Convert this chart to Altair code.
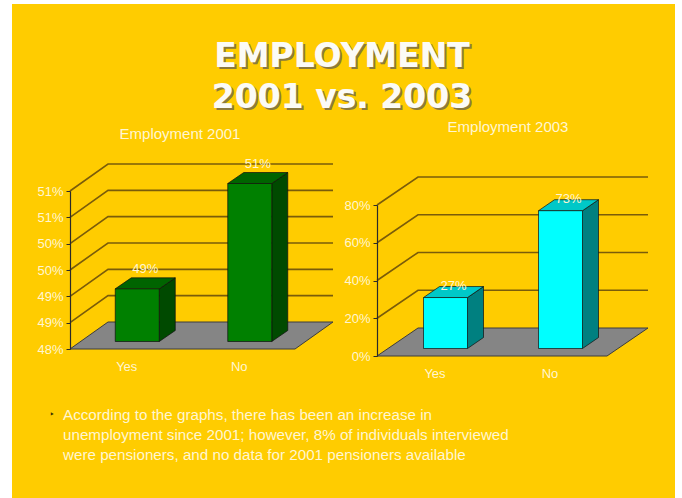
import json
import altair as alt
import pandas as pd

W, H = 682, 498

# ---------------- data ----------------
categories = ["Yes", "No"]
values_2001 = [49.0, 51.0]
values_2003 = [27.0, 73.0]
value_labels_2001 = ["49%", "51%"]
value_labels_2003 = ["27%", "73%"]
ticks_2001 = [48, 48.5, 49, 49.5, 50, 50.5, 51]
tick_labels_2001 = ["48%", "49%", "49%", "50%", "50%", "51%", "51%"]
ticks_2003 = [0, 20, 40, 60, 80]
tick_labels_2003 = ["0%", "20%", "40%", "60%", "80%"]
title_lines = ["EMPLOYMENT", "2001 vs. 2003"]
panel_titles = ["Employment 2001", "Employment 2003"]
bullet_lines = [
    "According to the graphs, there has been an increase in",
    "unemployment since 2001; however, 8% of individuals interviewed",
    "were pensioners, and no data for 2001 pensioners available",
]

# ---------------- style ----------------
BG = "#FFCC00"
TXT = "#FFF6D2"
GRID = "#7A5C0A"
LABEL_FONT = "Liberation Sans"


def panel(vals, vlabels, ticks, tlabels, geom, colors, label_dy):
    XL, XR, YB, YT = geom["x0"], geom["x1"], geom["y0"], geom["y1"]
    lo, hi = ticks[0], ticks[-1]
    ux = (XR - XL) / 2.0
    uy = (YB - YT) / float(hi - lo)
    DX, DY = geom["dx"] / ux, geom["dy"] / uy
    fx, fy = 11 / ux, 7.5 / uy
    hw = 22 / ux
    bx, by = 16 / ux, 11 / uy

    xs = alt.Scale(domain=[0, 2], range=[XL, XR], nice=False, zero=False)
    ys = alt.Scale(domain=[lo, hi], range=[YB, YT], nice=False, zero=False)

    ylab = "[%s][indexof([%s], datum.value)]" % (
        ",".join(json.dumps(s) for s in tlabels), ",".join(str(t) for t in ticks))
    xlab = "[%s][indexof([0.5,1.5], datum.value)]" % ",".join(json.dumps(c) for c in categories)
    xax = alt.Axis(orient="bottom", offset=-(H - YB), values=[0.5, 1.5], labelExpr=xlab,
                   ticks=False, domain=False, grid=False, labelPadding=11, labelColor=TXT,
                   labelFont=LABEL_FONT, labelFontSize=13, title=None, zindex=1)
    yax = alt.Axis(orient="left", offset=-XL, values=ticks, labelExpr=ylab, grid=False,
                   domainColor="#2a2a2a", domainWidth=1.2, tickColor="#2a2a2a", tickSize=4,
                   labelColor=TXT, labelFont=LABEL_FONT, labelFontSize=13, labelPadding=3,
                   title=None, zindex=1)

    def X(f):
        return alt.X(f, scale=xs, axis=xax)

    def Y(f):
        return alt.Y(f, scale=ys, axis=yax)

    # back-wall grid lines
    g = []
    for t in ticks[1:]:
        g += [dict(t=t, o=0, x=0, y=t), dict(t=t, o=1, x=DX, y=t + DY),
              dict(t=t, o=2, x=2 + DX, y=t + DY)]
    grid = alt.Chart(pd.DataFrame(g)).mark_line(color=GRID, strokeWidth=1.6).encode(
        x=X("x:Q"), y=Y("y:Q"), detail="t:N", order="o:Q")

    floor_df = pd.DataFrame([dict(y=lo, x=0, x2=2), dict(y=lo + DY, x=DX, x2=2 + DX)])
    floor = alt.Chart(floor_df).mark_area(orient="horizontal", color="#858585",
                                          stroke="#3c3c3c", strokeWidth=1).encode(
        y=Y("y:Q"), x=X("x:Q"), x2="x2:Q")

    front, side, top, lab = [], [], [], []
    for i, (c, v) in enumerate(zip(categories, vals)):
        cx = i + 0.5 + fx
        xl, xr = cx - hw, cx + hw
        base, tv = lo + fy, v + fy
        front.append(dict(id=c, xl=xl, xr=xr, b=base, t=tv))
        side += [dict(id=c, x=xr, y=tv, y2=base),
                 dict(id=c, x=xr + bx, y=tv + by, y2=base + by)]
        top += [dict(id=c, y=tv, x=xl, x2=xr),
                dict(id=c, y=tv + by, x=xl + bx, x2=xr + bx)]
        lab.append(dict(id=c, x=cx + bx / 2, y=tv + by, s=vlabels[i]))

    side_l = alt.Chart(pd.DataFrame(side)).mark_area(
        color=colors[2], stroke="#101010", strokeWidth=0.7).encode(
        x=X("x:Q"), y=Y("y:Q"), y2="y2:Q", detail="id:N")
    top_l = alt.Chart(pd.DataFrame(top)).mark_area(
        orient="horizontal", color=colors[1], stroke="#101010", strokeWidth=0.7).encode(
        y=Y("y:Q"), x=X("x:Q"), x2="x2:Q", detail="id:N")
    front_l = alt.Chart(pd.DataFrame(front)).mark_rect(
        color=colors[0], stroke="#101010", strokeWidth=0.7).encode(
        x=X("xl:Q"), x2="xr:Q", y=Y("b:Q"), y2="t:Q")
    lab_l = alt.Chart(pd.DataFrame(lab)).mark_text(
        font=LABEL_FONT, fontSize=13, color=TXT, baseline="middle", dy=label_dy).encode(
        x=X("x:Q"), y=Y("y:Q"), text="s:N")
    return alt.layer(grid, floor, side_l, top_l, front_l, lab_l)


p1 = panel(values_2001, value_labels_2001, ticks_2001, tick_labels_2001,
           dict(x0=70, x1=295, y0=349, y1=191, dx=38, dy=27),
           ["#008000", "#006400", "#004A00"], -9)
p2 = panel(values_2003, value_labels_2003, ticks_2003, tick_labels_2003,
           dict(x0=377, x1=607, y0=356, y1=205, dx=41, dy=28),
           ["#00FFFF", "#00C8C8", "#008080"], -1)

one = pd.DataFrame({"k": [0]})
bg = alt.Chart(one).mark_rect(color=BG).encode(
    x=alt.value(12), x2=alt.value(675), y=alt.value(4), y2=alt.value(H))

title_df = pd.DataFrame({"s": title_lines, "yy": [57, 98]})
t_shadow = alt.Chart(title_df).mark_text(
    font="DejaVu Sans", fontWeight="bold", fontSize=33, color="#8C7A3C",
    baseline="middle", dx=2, dy=2).encode(x=alt.value(342), y=alt.Y("yy:Q", scale=None), text="s:N")
t_main = alt.Chart(title_df).mark_text(
    font="DejaVu Sans", fontWeight="bold", fontSize=33, color="#FBFBF6",
    baseline="middle").encode(x=alt.value(342), y=alt.Y("yy:Q", scale=None), text="s:N")

pt_df = pd.DataFrame({"s": panel_titles, "xx": [180, 508], "yy": [134, 127]})
pt = alt.Chart(pt_df).mark_text(font=LABEL_FONT, fontSize=15, color=TXT,
                                baseline="middle").encode(
    x=alt.X("xx:Q", scale=None), y=alt.Y("yy:Q", scale=None), text="s:N")

bl_df = pd.DataFrame({"s": bullet_lines, "yy": [415, 435, 455]})
bl = alt.Chart(bl_df).mark_text(font="Liberation Sans", fontSize=15.2, color=TXT,
                                align="left", baseline="middle").encode(
    x=alt.value(63), y=alt.Y("yy:Q", scale=None), text="s:N")
bullet = alt.Chart(one).mark_text(text="\u2023", fontSize=11, color="#3A3000",
                                  baseline="middle").encode(x=alt.value(52), y=alt.value(415))

chart = alt.layer(bg, t_shadow, t_main, pt, p1, p2, bullet, bl).resolve_scale(
    x="independent", y="independent").properties(
    width=W, height=H, padding=0, autosize=alt.AutoSizeParams(type="none"),
    background="white").configure_view(stroke=None)

chart.save("out.html", embed_options={"renderer": "svg", "actions": False})
